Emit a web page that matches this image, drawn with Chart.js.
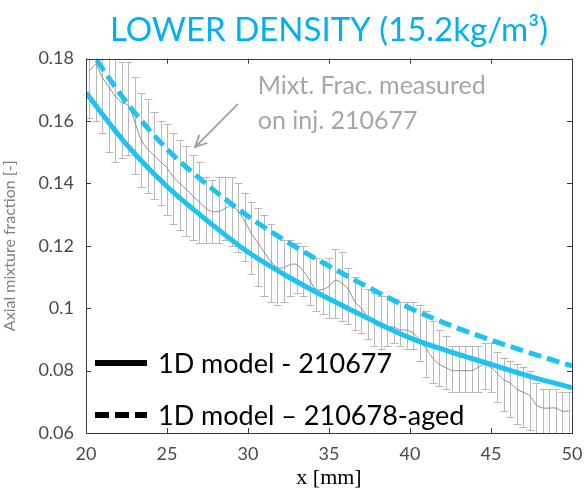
<!DOCTYPE html>
<html lang="en">
<head>
<meta charset="UTF-8">
<title>Lower density</title>
<script src="https://cdn.jsdelivr.net/npm/chart.js@4"></script>
<style>
  html, body { margin: 0; padding: 0; background: #fff; }
</style>
</head>
<body>
<canvas id="chart" width="585" height="490"></canvas>
<script>
// 1D model curves, x in mm
const xModel = [20, 22.5, 25, 27.5, 30, 32.5, 35, 37.5, 40, 42.5, 45, 47.5, 50];
const model677 = [0.169, 0.1525, 0.139, 0.128, 0.118, 0.110, 0.103, 0.0965, 0.0905, 0.086, 0.082, 0.078, 0.0745];
const model678aged = [0.1845, 0.166, 0.151, 0.1395, 0.1295, 0.121, 0.1135, 0.1065, 0.100, 0.0945, 0.0898, 0.0855, 0.0815];

// measured mixture fraction on inj. 210677 (mean + error bar limits)
const xMeas = [20.2, 20.6, 21.0, 21.4, 21.8, 22.2, 22.6, 23.0, 23.4, 23.8,
  24.2, 24.6, 25.0, 25.4, 25.8, 26.2, 26.6, 27.0, 27.4, 27.8,
  28.2, 28.6, 29.0, 29.4, 29.8, 30.2, 30.6, 31.0, 31.4, 31.8,
  32.2, 32.6, 33.0, 33.4, 33.8, 34.2, 34.6, 35.0, 35.4, 35.8,
  36.2, 36.6, 37.0, 37.4, 37.8, 38.2, 38.6, 39.0, 39.4, 39.8,
  40.2, 40.6, 41.0, 41.4, 41.8, 42.2, 42.6, 43.0, 43.4, 43.8,
  44.2, 44.6, 45.0, 45.4, 45.8, 46.2, 46.6, 47.0, 47.4, 47.8,
  48.2, 48.6, 49.0, 49.4, 49.8];
const measMean = [0.176, 0.178, 0.174, 0.171, 0.168, 0.166, 0.165, 0.160, 0.154, 0.151,
  0.149, 0.147, 0.145, 0.142, 0.140, 0.138, 0.136, 0.134, 0.132, 0.131,
  0.131, 0.132, 0.133, 0.131, 0.128, 0.124, 0.121, 0.118, 0.115, 0.113,
  0.113, 0.114, 0.114, 0.112, 0.109, 0.106, 0.106, 0.107, 0.109, 0.108,
  0.106, 0.102, 0.100, 0.097, 0.095, 0.094, 0.094, 0.094, 0.093, 0.093,
  0.092, 0.090, 0.087, 0.084, 0.082, 0.081, 0.080, 0.080, 0.080, 0.080,
  0.081, 0.082, 0.081, 0.079, 0.077, 0.076, 0.074, 0.073, 0.072, 0.069,
  0.068, 0.068, 0.068, 0.067, 0.067];
const measLow = [0.161, 0.160, 0.156, 0.150, 0.147, 0.148, 0.149, 0.143, 0.139, 0.137,
  0.135, 0.133, 0.130, 0.127, 0.125, 0.123, 0.122, 0.121, 0.121, 0.121,
  0.121, 0.122, 0.120, 0.118, 0.115, 0.111, 0.107, 0.104, 0.102, 0.101,
  0.102, 0.104, 0.105, 0.104, 0.101, 0.099, 0.098, 0.097, 0.097, 0.096,
  0.095, 0.093, 0.092, 0.090, 0.088, 0.087, 0.088, 0.089, 0.088, 0.087,
  0.087, 0.083, 0.078, 0.076, 0.075, 0.074, 0.073, 0.073, 0.073, 0.073,
  0.073, 0.074, 0.073, 0.070, 0.067, 0.065, 0.063, 0.062, 0.061, 0.060,
  0.058, 0.058, 0.059, 0.059, 0.059];
const measHigh = [0.190, 0.190, 0.186, 0.182, 0.180, 0.179, 0.179, 0.174, 0.169, 0.167,
  0.163, 0.160, 0.159, 0.156, 0.154, 0.152, 0.149, 0.147, 0.142, 0.141,
  0.142, 0.142, 0.142, 0.140, 0.137, 0.134, 0.132, 0.130, 0.127, 0.123,
  0.122, 0.122, 0.121, 0.120, 0.117, 0.116, 0.115, 0.116, 0.119, 0.118,
  0.113, 0.110, 0.108, 0.106, 0.105, 0.104, 0.104, 0.103, 0.102, 0.102,
  0.102, 0.101, 0.099, 0.096, 0.093, 0.091, 0.088, 0.088, 0.088, 0.088,
  0.088, 0.089, 0.089, 0.086, 0.084, 0.083, 0.082, 0.081, 0.080, 0.076,
  0.074, 0.074, 0.074, 0.073, 0.073];

const yTicks = [0.06, 0.08, 0.1, 0.12, 0.14, 0.16, 0.18];
const xTicks = [20, 25, 30, 35, 40, 45, 50];
const legendLabels = ['1D model - 210677', '1D model \u2013 210678-aged'];
const noteLines = ['Mixt. Frac. measured', 'on inj. 210677'];

const CYAN = '#1dc3f2';
const SANS = 'Lato, "DejaVu Sans", sans-serif';

// error bars, frame with inward ticks, note and legend
const decorations = {
    id: 'decorations',
    beforeDatasetsDraw(chart) {
        const { ctx, chartArea: a, scales: { x, y } } = chart;
        ctx.save();
        ctx.beginPath();
        ctx.rect(a.left, a.top, a.right - a.left, a.bottom - a.top);
        ctx.clip();
        ctx.strokeStyle = '#b8b8b8';
        ctx.lineWidth = 1;
        ctx.beginPath();
        xMeas.forEach((v, i) => {
            const px = Math.round(x.getPixelForValue(v)) + 0.5;
            const top = Math.round(y.getPixelForValue(measHigh[i])) + 0.5;
            const bot = Math.round(y.getPixelForValue(measLow[i])) + 0.5;
            ctx.moveTo(px, top); ctx.lineTo(px, bot);
            ctx.moveTo(px - 4, top); ctx.lineTo(px + 4, top);
            ctx.moveTo(px - 4, bot); ctx.lineTo(px + 4, bot);
        });
        ctx.stroke();
        ctx.restore();
    },
    afterDraw(chart) {
        const { ctx, chartArea: a, scales: { x, y } } = chart;
        ctx.save();
        // frame
        ctx.strokeStyle = '#3a3a3a';
        ctx.lineWidth = 1;
        ctx.strokeRect(Math.round(a.left) + 0.5, Math.round(a.top) + 0.5,
            Math.round(a.right - a.left), Math.round(a.bottom - a.top));
        ctx.beginPath();
        xTicks.forEach(v => {
            const px = Math.round(x.getPixelForValue(v)) + 0.5;
            ctx.moveTo(px, a.bottom); ctx.lineTo(px, a.bottom - 5);
            ctx.moveTo(px, a.top); ctx.lineTo(px, a.top + 5);
        });
        yTicks.forEach(v => {
            const py = Math.round(y.getPixelForValue(v)) + 0.5;
            ctx.moveTo(a.left, py); ctx.lineTo(a.left + 5, py);
            ctx.moveTo(a.right, py); ctx.lineTo(a.right - 5, py);
        });
        ctx.stroke();

        // note with arrow
        const grey = '#a6a6a6';
        ctx.strokeStyle = grey;
        ctx.lineWidth = 2;
        const x0 = x.getPixelForValue(29.38), y0 = y.getPixelForValue(0.1655);
        const x1 = x.getPixelForValue(26.73), y1 = y.getPixelForValue(0.1516);
        const ang = Math.atan2(y1 - y0, x1 - x0);
        ctx.beginPath();
        ctx.moveTo(x0, y0); ctx.lineTo(x1, y1);
        ctx.moveTo(x1 - 13 * Math.cos(ang - 0.45), y1 - 13 * Math.sin(ang - 0.45));
        ctx.lineTo(x1, y1);
        ctx.lineTo(x1 - 13 * Math.cos(ang + 0.45), y1 - 13 * Math.sin(ang + 0.45));
        ctx.stroke();
        ctx.fillStyle = grey;
        ctx.font = '25px ' + SANS;
        ctx.textAlign = 'left';
        ctx.textBaseline = 'middle';
        ctx.fillText(noteLines[0], x.getPixelForValue(30.6), y.getPixelForValue(0.1713));
        ctx.fillText(noteLines[1], x.getPixelForValue(30.6), y.getPixelForValue(0.1600));

        // legend (black keys)
        ctx.strokeStyle = '#000';
        ctx.fillStyle = '#000';
        ctx.lineWidth = 6;
        ctx.font = '27px ' + SANS;
        const rows = [a.bottom - 70, a.bottom - 18];
        rows.forEach((ry, i) => {
            ctx.setLineDash(i === 0 ? [] : [14, 6]);
            ctx.beginPath();
            ctx.moveTo(a.left + 9, ry); ctx.lineTo(a.left + 61, ry);
            ctx.stroke();
            ctx.fillText(legendLabels[i], a.left + 72, ry + 1);
        });
        ctx.setLineDash([]);
        ctx.restore();
    }
};

new Chart(document.getElementById('chart'), {
    type: 'line',
    data: {
        datasets: [
            {
                label: legendLabels[0],
                data: xModel.map((v, i) => ({ x: v, y: model677[i] })),
                borderColor: CYAN,
                borderWidth: 5,
                pointRadius: 0,
                cubicInterpolationMode: 'monotone',
                clip: 0
            },
            {
                label: legendLabels[1],
                data: xModel.map((v, i) => ({ x: v, y: model678aged[i] })),
                borderColor: CYAN,
                borderWidth: 5,
                borderDash: [13, 6],
                pointRadius: 0,
                cubicInterpolationMode: 'monotone',
                clip: 0
            },
            {
                label: 'measured 210677',
                data: xMeas.map((v, i) => ({ x: v, y: measMean[i] })),
                borderColor: '#8c8c8c',
                borderWidth: 1,
                pointRadius: 0,
                tension: 0.3,
                clip: 0
            }
        ]
    },
    options: {
        responsive: false,
        animation: false,
        layout: { padding: { left: 0, right: 13, top: 0, bottom: 0 } },
        plugins: {
            legend: { display: false },
            tooltip: { enabled: false },
            title: {
                display: true,
                text: 'LOWER DENSITY (15.2kg/m\u00b3)',
                color: '#00b0f0',
                fullSize: false,
                font: { family: SANS, size: 33, weight: 'normal' },
                padding: { top: 11, bottom: 8 }
            }
        },
        scales: {
            x: {
                type: 'linear',
                min: 20,
                max: 50,
                afterBuildTicks: s => { s.ticks = xTicks.map(v => ({ value: v })); },
                afterFit: s => { s.height = 57; },
                grid: { display: false },
                border: { display: false },
                ticks: { color: '#4a4a4a', padding: 2, font: { family: SANS, size: 18 } },
                title: {
                    display: true,
                    text: 'x [mm]',
                    color: '#000',
                    font: { family: '"Liberation Serif", "Times New Roman", serif', size: 22 },
                    padding: { top: 0, bottom: -1 }
                }
            },
            y: {
                min: 0.06,
                max: 0.18,
                afterBuildTicks: s => { s.ticks = yTicks.map(v => ({ value: v })); },
                afterFit: s => { s.width = 86; },
                grid: { display: false },
                border: { display: false },
                ticks: {
                    color: '#4a4a4a',
                    padding: 4,
                    font: { family: SANS, size: 18 },
                    callback: v => String(Number(v.toFixed(2)))
                },
                title: {
                    display: true,
                    text: 'Axial mixture fraction [-]',
                    color: '#7f7f7f',
                    font: { family: SANS, size: 16 },
                    padding: { top: 0, bottom: 0 }
                }
            }
        }
    },
    plugins: [decorations]
});
</script>
</body>
</html>
